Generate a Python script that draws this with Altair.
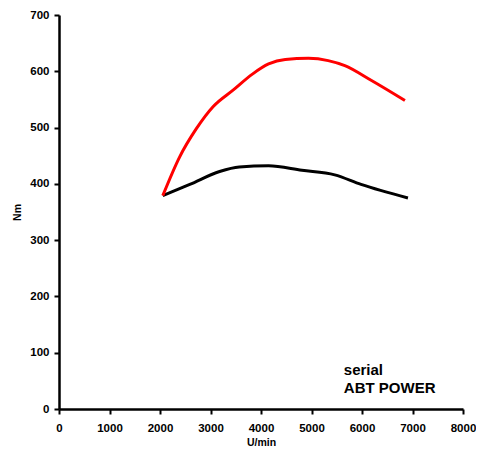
import altair as alt
import pandas as pd

rpm_abt = [2055, 2390, 2720, 3050, 3440, 3830, 4150, 4480, 4940, 5330, 5660, 6180, 6850]
nm_abt = [379, 448, 498, 537, 566, 595, 613, 621, 623, 619, 610, 584, 548]
rpm_serial = [2055, 2590, 3180, 3570, 4150, 4810, 5460, 5980, 6910]
nm_serial = [379, 399, 422, 430, 432, 424, 416, 399, 375]
labels = ["serial", "ABT POWER"]
label_rpm = [5640, 5640]
label_nm = [70, 38]

rows = []
for x, y in zip(rpm_serial, nm_serial):
    rows.append({"rpm": x, "nm": y, "series": "serial"})
for x, y in zip(rpm_abt, nm_abt):
    rows.append({"rpm": x, "nm": y, "series": "ABT POWER"})
df = pd.DataFrame(rows)

FONT = "Liberation Sans"

x_scale = alt.Scale(domain=[0, 8000], nice=False)
y_scale = alt.Scale(domain=[0, 700], nice=False)

lines = alt.Chart(df).mark_line(strokeWidth=3, interpolate="monotone").encode(
    x=alt.X("rpm:Q", scale=x_scale,
            axis=alt.Axis(title="U/min", values=list(range(0, 8001, 1000)), format="d",
                          grid=False, domainWidth=2.5, domainColor="black",
                          tickColor="black", tickWidth=2, tickSize=5,
                          labelFont=FONT, labelFontWeight="bold", labelFontSize=11.5,
                          labelColor="black", labelPadding=8, labelFlush=False,
                          titleFont=FONT, titleFontWeight="bold", titleFontSize=10.5,
                          titleColor="black", titlePadding=4)),
    y=alt.Y("nm:Q", scale=y_scale,
            axis=alt.Axis(title="Nm", values=list(range(0, 701, 100)),
                          grid=False, domainWidth=2.5, domainColor="black",
                          tickColor="black", tickWidth=2, tickSize=5,
                          labelFont=FONT, labelFontWeight="bold", labelFontSize=11.5,
                          labelColor="black", labelPadding=5, labelFlush=False,
                          titleFont=FONT, titleFontWeight="bold", titleFontSize=10.5,
                          titleColor="black", titlePadding=7)),
    color=alt.Color("series:N", scale=alt.Scale(domain=["serial", "ABT POWER"],
                                                  range=["black", "#ff0000"]), legend=None),
    detail="series:N",
)

ldf = pd.DataFrame({"label": labels, "rpm": label_rpm, "nm": label_nm})
texts = alt.Chart(ldf).mark_text(align="left", baseline="middle", font=FONT,
                                 fontWeight="bold", fontSize=15, color="black").encode(
    x=alt.X("rpm:Q", scale=x_scale),
    y=alt.Y("nm:Q", scale=y_scale),
    text="label:N",
)

chart = alt.layer(lines, texts).properties(
    width=404, height=394,
    autosize=alt.AutoSizeParams(type="none"),
    padding={"left": 51, "top": 7, "right": 13, "bottom": 38},
    background="white",
).configure_view(stroke=None)

chart.save("out.html", embed_options={"renderer": "svg", "actions": False})
